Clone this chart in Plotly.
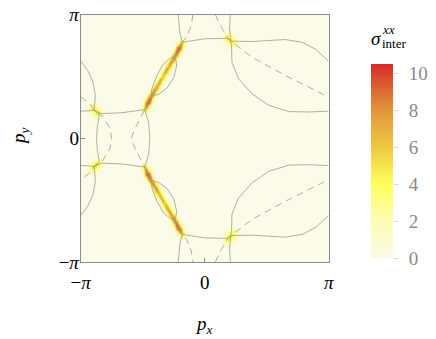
import numpy as np
import plotly.graph_objects as go

PI = np.pi

# --- values (momentum units, upper half py >= 0; lower half is the mirror py -> -py)

# bright streak along the near-degenerate lines (position and peak value of sigma)
streak_px = [-0.57, -0.66, -0.75, -1.06, -1.37, -1.45, -1.52]
streak_py = [2.44, 2.29, 2.11, 1.58, 1.06, 0.90, 0.73]
streak_val = [5.5, 10.4, 8.5, 6.0, 8.5, 10.4, 5.5]

# small yellow spots at the crossings
spot_px = [[0.58, 0.70], [-2.83, -2.71]]
spot_py = [[2.56, 2.44], [0.76, 0.64]]
spot_val = [4.8, 4.8]

# solid contour lines
solid_lines = [
    ([-0.67, -0.63, -0.57], [3.14, 2.69, 2.44]),
    ([-0.57, -0.34, 0.00, 0.57, 0.66], [2.44, 2.48, 2.53, 2.54, 2.47]),
    ([0.65, 0.63, 0.66], [3.14, 2.78, 2.47]),
    ([0.66, 1.20, 2.04, 2.47, 2.80, 3.14], [2.47, 2.46, 2.51, 2.44, 2.27, 1.96]),
    ([-3.14, -2.96, -2.83, -2.77, -2.80], [1.96, 1.72, 1.43, 1.09, 0.71]),
    ([0.66, 0.68, 0.69, 0.86, 1.20, 1.62, 2.13, 2.64, 3.14], [2.47, 2.36, 1.93, 1.51, 1.13, 0.84, 0.68, 0.67, 0.69]),
    ([-3.14, -2.80, -2.62, -2.11, -1.52], [0.69, 0.71, 0.63, 0.65, 0.73]),
    ([-0.57, -0.75, -0.92, -1.06, -1.22, -1.33, -1.37, -1.52], [2.44, 2.11, 2.00, 1.87, 1.58, 1.28, 1.06, 0.73]),
    ([-0.75, -0.71, -0.78, -0.95, -1.15, -1.37], [2.11, 1.85, 1.55, 1.28, 1.13, 1.06]),
]
# solid curves that pass through py = 0 (joined with their mirror image)
solid_through = [
    ([-2.80, -2.67, -2.72, -2.74], [0.71, 0.59, 0.30, 0.0]),
    ([-1.52, -1.42, -1.39], [0.73, 0.41, 0.0]),
]

# dashed contour lines
dashed_lines = [
    ([0.27, 0.40, 0.57, 0.66, 1.20, 2.04, 3.14], [3.14, 2.86, 2.57, 2.47, 2.06, 1.60, 1.05]),
]
dashed_through = [
    ([-0.30, -0.34, -0.46, -0.57, -0.75, -1.37, -1.52, -1.60, -1.77, -1.86],
     [3.14, 2.86, 2.57, 2.44, 2.11, 1.06, 0.73, 0.58, 0.24, 0.0]),
    ([-3.14, -2.91, -2.80, -2.57, -2.40, -2.36], [1.05, 0.88, 0.71, 0.55, 0.25, 0.0]),
]

z_max = 10.5
cbar_ticks = [0, 2, 4, 6, 8, 10]

# --- build the intensity map from the streaks and spots
n = 321
g = np.linspace(-PI, PI, n)
X, Y = np.meshgrid(g, g)
Z = np.zeros_like(X)


def add_chain(xs, ys, vals, sig):
    global Z
    for i in range(len(xs) - 1):
        ax, ay, bx, by = xs[i], ys[i], xs[i + 1], ys[i + 1]
        dx, dy = bx - ax, by - ay
        t = ((X - ax) * dx + (Y - ay) * dy) / (dx * dx + dy * dy)
        t = np.clip(t, 0, 1)
        d2 = (X - ax - t * dx) ** 2 + (Y - ay - t * dy) ** 2
        amp = vals[i] + t * (vals[i + 1] - vals[i])
        Z = np.maximum(Z, amp * np.exp(-d2 / (2 * sig ** 2)))


for sgn in (1, -1):
    add_chain(streak_px, [sgn * v for v in streak_py], streak_val, 0.058)
    for sx, sy, sv in zip(spot_px, spot_py, spot_val):
        add_chain(sx, [sgn * v for v in sy], [sv, sv], 0.078)


def join(lines, through):
    xs, ys = [], []
    for lx, ly in lines:
        for sgn in (1, -1):
            xs += list(lx) + [None]
            ys += [sgn * v for v in ly] + [None]
    for lx, ly in through:
        xs += list(lx) + list(lx[::-1]) + [None]
        ys += list(ly) + [-v for v in ly[::-1]] + [None]
    return xs, ys


sx, sy = join(solid_lines, solid_through)
dx_, dy_ = join(dashed_lines, dashed_through)

colors = [
    [0.0, "#fafbe8"],
    [0.19, "#fcfcb4"],
    [0.38, "#ffff5e"],
    [0.57, "#efc843"],
    [0.76, "#e2963a"],
    [1.0, "#d52c2a"],
]

serif = "Liberation Serif"
# page has an 8px body margin, so the figure is drawn 8px in from the window corner
OFF = 8
W, H = 436 - OFF, 339 - OFF


def fx(v):
    return (v - OFF) / W


def fy(v):
    return (H - (v - OFF)) / H


cbar_levels = np.linspace(0, z_max, 211)

fig = go.Figure()
fig.add_trace(go.Heatmap(
    x=g, y=g, z=Z, zmin=0, zmax=z_max, colorscale=colors, zsmooth="best",
    hoverinfo="skip", showscale=False,
))
fig.add_trace(go.Scatter(x=sx, y=sy, mode="lines", line=dict(color="#9d9d90", width=0.8),
                         hoverinfo="skip", showlegend=False))
fig.add_trace(go.Scatter(x=dx_, y=dy_, mode="lines",
                         line=dict(color="#9d9d90", width=0.8, dash="7px,5px"),
                         hoverinfo="skip", showlegend=False))
# colour bar drawn as its own heatmap
fig.add_trace(go.Heatmap(
    x=[0, 1], y=cbar_levels, z=[[v, v] for v in cbar_levels], zmin=0, zmax=z_max,
    colorscale=colors, showscale=False, hoverinfo="skip", xaxis="x2", yaxis="y2",
))

axis = dict(range=[-PI, PI], showgrid=False, zeroline=False, showline=True,
            linecolor="#8c8c8c", linewidth=1, mirror=True, ticks="inside",
            ticklen=4, tickcolor="#8c8c8c", tickvals=[-PI, 0, PI],
            ticktext=["\u2212<i>\u03c0</i>", "0", "<i>\u03c0</i>"],
            tickfont=dict(family=serif, size=19, color="black"), automargin=False,
            ticklabeloverflow="allow")
fig.update_layout(
    width=W, height=H, autosize=False,
    margin=dict(l=0, r=0, t=0, b=0),
    paper_bgcolor="white", plot_bgcolor="#fafbe8",
    xaxis=dict(axis, domain=[fx(80.7), fx(328.7)], ticklabelstandoff=3),
    yaxis=dict(axis, domain=[fy(262), fy(14.7)], ticklabelstandoff=-3),
    xaxis2=dict(domain=[fx(371), fx(393)], range=[0, 1], visible=False, anchor="y2",
                automargin=False),
    yaxis2=dict(domain=[fy(258), fy(64)], range=[0, z_max], anchor="x2", side="right",
                showgrid=False, zeroline=False, showline=False, ticks="outside",
                ticklen=5, tickcolor="#dcdcdc", tickvals=cbar_ticks, ticklabelstandoff=6,
                tickfont=dict(family=serif, size=19, color="#8a8a8a"), automargin=False,
                ticklabeloverflow="allow"),
    annotations=[
        dict(text="<i>p</i><sub><i>x</i></sub>", x=fx(204), y=fy(325)),
        dict(text="<i>p</i><sub><i>y</i></sub>", x=fx(20), y=fy(136), textangle=-90),
        dict(text="<i>\u03c3</i>", x=fx(376), y=fy(38)),
        dict(text="<i>xx</i>", x=fx(388), y=fy(29), font=dict(size=13)),
        dict(text="inter", x=fx(394), y=fy(43), font=dict(size=13)),
    ],
)
fig.update_annotations(xref="paper", yref="paper", xanchor="center", yanchor="middle",
                       showarrow=False, font_family=serif, font_color="black")
for a in fig.layout.annotations:
    if a.font.size is None:
        a.font.size = 19

fig.write_html("out.html")
